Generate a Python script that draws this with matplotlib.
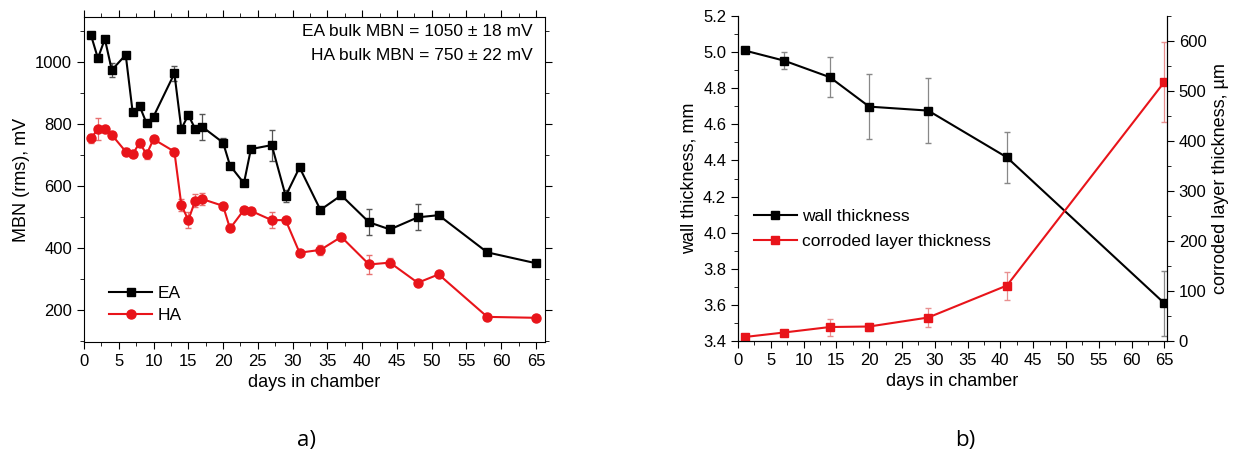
import numpy as np
import matplotlib
matplotlib.use("Agg")
import matplotlib.pyplot as plt
from matplotlib.ticker import MultipleLocator, FormatStrFormatter
from matplotlib.lines import Line2D

plt.rcParams['font.family'] = ['Liberation Sans', 'DejaVu Sans']
plt.rcParams['font.size'] = 12
plt.rcParams['xtick.labelsize'] = 12
plt.rcParams['ytick.labelsize'] = 12

# panel a) MBN vs days
days_a = [1, 2, 3, 4, 6, 7, 8, 9, 10, 13, 14, 15, 16, 17, 20, 21, 23, 24, 27, 29,
          31, 34, 37, 41, 44, 48, 51, 58, 65]
ea = [1087, 1012, 1074, 974, 1023, 838, 858, 802, 824, 963, 784, 829, 784, 791, 740,
      666, 609, 719, 732, 568, 660, 523, 570, 483, 460, 499, 506, 386, 351]
ea_err = [8, 8, 8, 22, 8, 8, 8, 8, 8, 25, 8, 8, 8, 42, 15, 8, 8, 8, 50, 20,
          8, 8, 8, 42, 8, 42, 8, 8, 8]
ha = [754, 783, 783, 765, 711, 702, 740, 702, 751, 711, 539, 490, 553, 558, 536,
      463, 523, 520, 490, 490, 385, 394, 436, 347, 353, 288, 315, 178, 175]
ha_err = [15, 35, 10, 10, 10, 10, 10, 15, 10, 8, 20, 25, 20, 20, 10,
          8, 8, 8, 25, 8, 10, 15, 8, 30, 15, 8, 8, 8, 8]

# panel b) thickness vs days
days_b = [1, 7, 14, 20, 29, 41, 65]
wall = [5.009, 4.953, 4.861, 4.698, 4.676, 4.417, 3.609]
wall_err = [0.008, 0.046, 0.11, 0.18, 0.18, 0.14, 0.18]
corr = [8, 17, 28, 29, 47, 111, 518]
corr_err = [4, 6, 17, 8, 19, 28, 80]

red = '#e8141a'

fig = plt.figure(figsize=(12.37, 4.66), dpi=100)

# ---- a) ----
ax = fig.add_axes([0.0679, 0.2661, 0.3727, 0.6974])
ax.errorbar(days_a, ea, yerr=ea_err, color='black', marker='s', ms=6, lw=1.5,
            ecolor='#555555', elinewidth=0.9, capsize=2.5, zorder=3)
ax.errorbar(days_a, ha, yerr=ha_err, color=red, marker='o', ms=6.5, lw=1.5,
            ecolor='#e87070', elinewidth=0.9, capsize=2.5, zorder=2)
ax.set_xlim(0, 66.3)
ax.set_ylim(97, 1145)
ax.xaxis.set_major_locator(MultipleLocator(5))
ax.xaxis.set_minor_locator(MultipleLocator(2.5))
ax.yaxis.set_major_locator(MultipleLocator(200))
ax.yaxis.set_minor_locator(MultipleLocator(100))
ax.tick_params(which='both', direction='out', top=True, right=True)
ax.tick_params(which='major', length=5)
ax.tick_params(which='minor', length=3)
ax.set_xlabel('days in chamber', fontsize=13)
ax.set_ylabel('MBN (rms), mV', fontsize=13)
ax.text(0.974, 0.954, 'EA bulk MBN = 1050 \u00b1 18 mV', transform=ax.transAxes,
        ha='right', va='center', fontsize=12.5)
ax.text(0.974, 0.883, 'HA bulk MBN = 750 \u00b1 22 mV', transform=ax.transAxes,
        ha='right', va='center', fontsize=12.5)
h_ea = Line2D([], [], color='black', marker='s', ms=6, lw=1.5)
h_ha = Line2D([], [], color=red, marker='o', ms=6.5, lw=1.5)
ax.legend([h_ea, h_ha], ['EA', 'HA'], loc='lower left', bbox_to_anchor=(0.02, 0.01),
          frameon=False, handlelength=2.5, handletextpad=0.3, labelspacing=0.4,
          fontsize=12.5)

# ---- b) ----
bx = fig.add_axes([0.5966, 0.2682, 0.3468, 0.6975])
bx.errorbar(days_b, wall, yerr=wall_err, color='black', marker='s', ms=5.5, lw=1.5,
            ecolor='#888888', elinewidth=0.9, capsize=2.5)
bx.set_xlim(0, 65.4)
bx.set_ylim(3.4, 5.2)
bx.xaxis.set_major_locator(MultipleLocator(5))
bx.xaxis.set_minor_locator(MultipleLocator(2.5))
bx.yaxis.set_major_locator(MultipleLocator(0.2))
bx.yaxis.set_minor_locator(MultipleLocator(0.1))
bx.yaxis.set_major_formatter(FormatStrFormatter('%.1f'))
bx.tick_params(which='both', direction='out')
bx.tick_params(which='major', length=5)
bx.tick_params(which='minor', length=3)
bx.spines['top'].set_visible(False)
bx.set_xlabel('days in chamber', fontsize=13)
bx.set_ylabel('wall thickness, mm', fontsize=13)

cx = bx.twinx()
cx.errorbar(days_b, corr, yerr=corr_err, color=red, marker='s', ms=5.5, lw=1.5,
            ecolor='#e89090', elinewidth=0.9, capsize=2.5)
cx.set_ylim(0, 650)
cx.yaxis.set_major_locator(MultipleLocator(100))
cx.yaxis.set_minor_locator(MultipleLocator(50))
cx.tick_params(which='both', direction='out')
cx.tick_params(which='major', length=5)
cx.tick_params(which='minor', length=3)
cx.spines['top'].set_visible(False)
cx.set_ylabel('corroded layer thickness, \u00b5m', fontsize=13)
h_w = Line2D([], [], color='black', marker='s', ms=5.5, lw=1.5)
h_c = Line2D([], [], color=red, marker='s', ms=5.5, lw=1.5)
bx.legend([h_w, h_c], ['wall thickness', 'corroded layer thickness'], loc='center left',
          bbox_to_anchor=(0.0, 0.345), frameon=False, handlelength=2.5,
          handletextpad=0.3, labelspacing=0.6, fontsize=12.5)

fig.text(0.248, 0.055, 'a)', ha='center', va='center', fontsize=16, family=['Open Sans', 'DejaVu Sans'])
fig.text(0.78, 0.055, 'b)', ha='center', va='center', fontsize=16, family=['Open Sans', 'DejaVu Sans'])

fig.savefig('out.png', dpi=100)
